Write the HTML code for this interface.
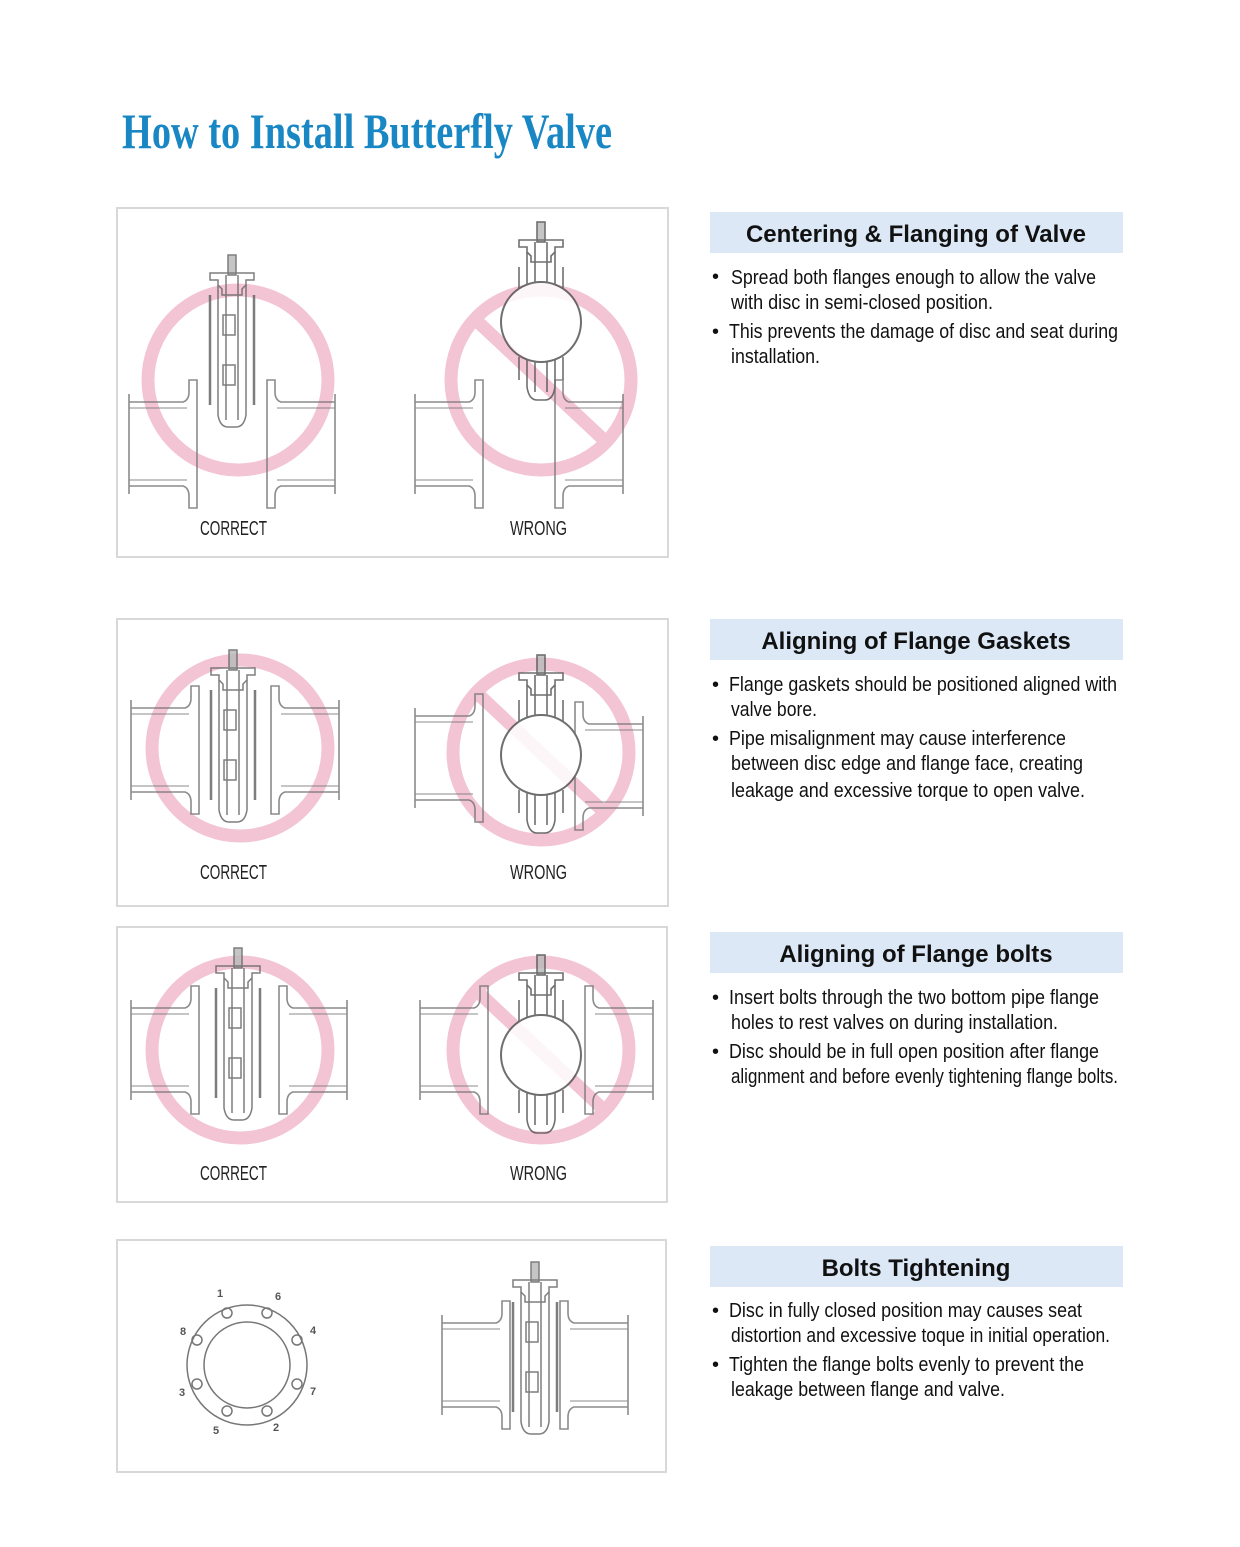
<!DOCTYPE html>
<html><head><meta charset="utf-8"><style>
html,body{margin:0;padding:0;background:#fff;}
svg{display:block;}
.t{font-family:"Liberation Sans",sans-serif;font-size:20px;fill:#222;}
.h{font-family:"Liberation Sans",sans-serif;font-size:24px;font-weight:bold;fill:#111;}
.l{font-family:"Liberation Sans",sans-serif;font-size:20px;fill:#111;}
.n{font-family:"Liberation Sans",sans-serif;font-size:11px;font-weight:bold;fill:#555;}
</style></head><body>
<svg width="1240" height="1547" viewBox="0 0 1240 1547" xmlns="http://www.w3.org/2000/svg">
<defs>
  <g id="pipeL" fill="none" stroke="#777" stroke-width="1.6">
    <path d="M-68,-42 H-14 Q-8,-44 -8,-52 V-64 H0 V64 H-8 V52 Q-8,44 -14,42 H-68"/>
    <path d="M-68,-36 H-10 M-68,36 H-10" stroke-width="1"/>
    <path d="M-68,-50 V50"/>
  </g>
  <g id="pipeR"><use href="#pipeL" transform="scale(-1,1)"/></g>
  <g id="valve" fill="none" stroke="#666" stroke-width="1.5">
    <rect x="-4" y="0" width="8" height="20" fill="#bbb"/>
    <path d="M-22,18 H22 V25 H14 V30 L10,34 V40 H-10 V34 L-14,30 V25 H-22 Z"/>
    <path d="M-14,30 V160 M14,30 V160 M-6,20 V165 M6,20 V165"/>
    <path d="M-22,40 V150 M22,40 V150" stroke-width="2.5"/>
    <path d="M-14,160 Q-12,172 -4,172 H4 Q12,172 14,160"/>
    <rect x="-9" y="60" width="12" height="20"/><rect x="-9" y="110" width="12" height="20"/>
  </g>
  <g id="ball" fill="none" stroke="#555" stroke-width="1.6">
    <rect x="-4" y="0" width="8" height="20" fill="#bbb"/>
    <path d="M-22,18 H22 V25 H14 V30 L10,34 V40 H-10 V34 L-14,30 V25 H-22 Z"/>
    <path d="M-14,30 V70 M14,30 V70 M-6,20 V62 M6,20 V62 M-22,45 V68 M22,45 V68"/>
    <circle cx="0" cy="100" r="40" fill="#fff" stroke-width="2"/>
    <path d="M-14,138 V165 M14,138 V165 M-6,140 V170 M6,140 V170 M-22,135 V158 M22,135 V158"/>
    <path d="M-14,165 Q-12,178 -4,178 H4 Q12,178 14,165"/>
  </g>
</defs>

<text x="122" y="148" textLength="490" lengthAdjust="spacingAndGlyphs" style="font-family:'Liberation Serif',serif;font-weight:bold;font-size:50px;fill:#1a87c5">How to Install Butterfly Valve</text>

<!-- panels -->
<g fill="#fff" stroke="#d8d8d8" stroke-width="2">
  <rect x="117" y="208" width="551" height="349"/>
  <rect x="117" y="619" width="551" height="287"/>
  <rect x="117" y="927" width="550" height="275"/>
  <rect x="117" y="1240" width="549" height="232"/>
</g>

<!-- panel 1 -->
<g fill="none" stroke="#f3c4d4" stroke-width="13">
  <circle cx="238" cy="380" r="90"/>
  <circle cx="541" cy="380" r="90"/>
  <line x1="478" y1="322" x2="604" y2="440"/>
  <circle cx="240" cy="748" r="88"/>
  <circle cx="541" cy="752" r="88"/>
  <line x1="478" y1="694" x2="604" y2="812"/>
  <circle cx="240" cy="1050" r="88"/>
  <circle cx="541" cy="1050" r="88"/>
  <line x1="478" y1="992" x2="604" y2="1110"/>
</g>
<g opacity="0.85">
<use href="#pipeL" transform="translate(197,444)"/>
<use href="#pipeR" transform="translate(267,444)"/>
<use href="#valve" transform="translate(232,255)"/>
<use href="#pipeL" transform="translate(483,444)"/>
<use href="#pipeR" transform="translate(555,444)"/>
<use href="#ball" transform="translate(541,222)"/>

<use href="#pipeL" transform="translate(199,750)"/>
<use href="#pipeR" transform="translate(271,750)"/>
<use href="#valve" transform="translate(233,650)"/>
<use href="#pipeL" transform="translate(483,758)"/>
<use href="#pipeR" transform="translate(575,766)"/>
<use href="#ball" transform="translate(541,655)"/>

<use href="#pipeL" transform="translate(199,1050)"/>
<use href="#pipeR" transform="translate(279,1050)"/>
<use href="#valve" transform="translate(238,948)"/>
<use href="#pipeL" transform="translate(488,1050)"/>
<use href="#pipeR" transform="translate(585,1050)"/>
<use href="#ball" transform="translate(541,955)"/>

<use href="#pipeL" transform="translate(510,1365)" />
<use href="#pipeR" transform="translate(560,1365)"/>
<use href="#valve" transform="translate(535,1262)"/>
</g>

<!-- bolt flange -->
<g fill="none" stroke="#777" stroke-width="1.5">
  <circle cx="247" cy="1365" r="60"/><circle cx="247" cy="1365" r="43"/>
  <circle cx="227" cy="1313" r="5"/><circle cx="267" cy="1313" r="5"/>
  <circle cx="297" cy="1340" r="5"/><circle cx="297" cy="1384" r="5"/>
  <circle cx="267" cy="1411" r="5"/><circle cx="227" cy="1411" r="5"/>
  <circle cx="197" cy="1384" r="5"/><circle cx="197" cy="1340" r="5"/>
</g>
<g class="n">
  <text x="217" y="1297">1</text><text x="275" y="1300">6</text><text x="180" y="1335">8</text>
  <text x="310" y="1334">4</text><text x="179" y="1396">3</text><text x="310" y="1395">7</text>
  <text x="213" y="1434">5</text><text x="273" y="1431">2</text>
</g>

<!-- labels -->
<g class="t">
  <text x="200" y="535" textLength="67" lengthAdjust="spacingAndGlyphs">CORRECT</text>
  <text x="510" y="535" textLength="57" lengthAdjust="spacingAndGlyphs">WRONG</text>
  <text x="200" y="879" textLength="67" lengthAdjust="spacingAndGlyphs">CORRECT</text>
  <text x="510" y="879" textLength="57" lengthAdjust="spacingAndGlyphs">WRONG</text>
  <text x="200" y="1180" textLength="67" lengthAdjust="spacingAndGlyphs">CORRECT</text>
  <text x="510" y="1180" textLength="57" lengthAdjust="spacingAndGlyphs">WRONG</text>
</g>

<!-- heading bars -->
<g fill="#dce8f6">
  <rect x="710" y="212" width="413" height="41"/>
  <rect x="710" y="619" width="413" height="41"/>
  <rect x="710" y="932" width="413" height="41"/>
  <rect x="710" y="1246" width="413" height="41"/>
</g>
<g class="h" text-anchor="middle">
  <text x="916" y="242">Centering &amp; Flanging of Valve</text>
  <text x="916" y="649">Aligning of Flange Gaskets</text>
  <text x="916" y="962">Aligning of Flange bolts</text>
  <text x="916" y="1276">Bolts Tightening</text>
</g>

<g class="l">
  <text x="712" y="283">•</text>
  <text x="731" y="284" textLength="365" lengthAdjust="spacingAndGlyphs">Spread both flanges enough to allow the valve</text>
  <text x="731" y="309" textLength="262" lengthAdjust="spacingAndGlyphs">with disc in semi-closed position.</text>
  <text x="712" y="338">•</text>
  <text x="729" y="338" textLength="389" lengthAdjust="spacingAndGlyphs">This prevents the damage of disc and seat during</text>
  <text x="731" y="363" textLength="89" lengthAdjust="spacingAndGlyphs">installation.</text>

  <text x="712" y="691">•</text>
  <text x="729" y="691" textLength="388" lengthAdjust="spacingAndGlyphs">Flange gaskets should be positioned aligned with</text>
  <text x="731" y="716" textLength="86" lengthAdjust="spacingAndGlyphs">valve bore.</text>
  <text x="712" y="745">•</text>
  <text x="729" y="745" textLength="337" lengthAdjust="spacingAndGlyphs">Pipe misalignment may cause interference</text>
  <text x="731" y="770" textLength="352" lengthAdjust="spacingAndGlyphs">between disc edge and flange face, creating</text>
  <text x="731" y="797" textLength="354" lengthAdjust="spacingAndGlyphs">leakage and  excessive torque to open valve.</text>

  <text x="712" y="1004">•</text>
  <text x="729" y="1004" textLength="370" lengthAdjust="spacingAndGlyphs">Insert bolts through the two bottom pipe flange</text>
  <text x="731" y="1029" textLength="327" lengthAdjust="spacingAndGlyphs">holes to rest valves on during installation.</text>
  <text x="712" y="1058">•</text>
  <text x="729" y="1058" textLength="370" lengthAdjust="spacingAndGlyphs">Disc should be in full open position after flange</text>
  <text x="731" y="1083" textLength="387" lengthAdjust="spacingAndGlyphs">alignment and before evenly tightening flange bolts.</text>

  <text x="712" y="1317">•</text>
  <text x="729" y="1317" textLength="353" lengthAdjust="spacingAndGlyphs">Disc in fully closed position may causes seat</text>
  <text x="731" y="1342" textLength="379" lengthAdjust="spacingAndGlyphs">distortion and excessive toque in initial operation.</text>
  <text x="712" y="1371">•</text>
  <text x="729" y="1371" textLength="355" lengthAdjust="spacingAndGlyphs">Tighten the flange bolts evenly to prevent the</text>
  <text x="731" y="1396" textLength="274" lengthAdjust="spacingAndGlyphs">leakage between flange and valve.</text>
</g>
</svg>
</body></html>
